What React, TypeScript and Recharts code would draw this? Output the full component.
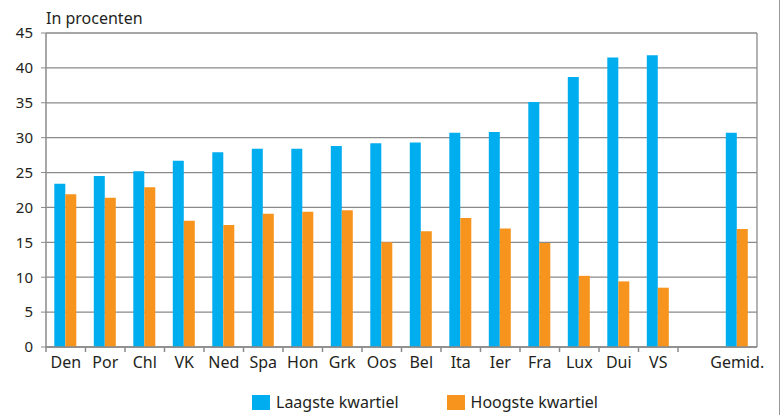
import React from 'react'
import { BarChart, Bar, XAxis, YAxis, CartesianGrid } from 'recharts'

// categorieën, inclusief lege kolom voor het gemiddelde
const landen = ['Den', 'Por', 'Chl', 'VK', 'Ned', 'Spa', 'Hon', 'Grk', 'Oos', 'Bel', 'Ita', 'Ier', 'Fra', 'Lux', 'Dui', 'VS', '', 'Gemid.']
const laagsteKwartiel = [23.4, 24.5, 25.2, 26.7, 27.9, 28.4, 28.4, 28.8, 29.2, 29.3, 30.7, 30.8, 35.1, 38.7, 41.5, 41.8, null, 30.7]
const hoogsteKwartiel = [21.9, 21.4, 22.9, 18.1, 17.5, 19.1, 19.4, 19.6, 15.0, 16.6, 18.5, 17.0, 14.9, 10.2, 9.4, 8.5, null, 16.9]
const yTicks = [0, 5, 10, 15, 20, 25, 30, 35, 40, 45]

const BLUE = '#00adee'
const ORANGE = '#f7941d'
const GRID = '#8a8a8a'
const TEXT = '#231f20'
const FONT = '"Noto Sans", "Open Sans", sans-serif'

const data = landen.map((naam, i) => ({
  naam,
  laag: laagsteKwartiel[i],
  hoog: hoogsteKwartiel[i],
}))

const W = 780
const H = 415
const MARGIN = { top: 33, right: 23, bottom: 38, left: 0 }
const Y_WIDTH = 46

// ticks between categories instead of at the centre
const XTick = (props: any) => {
  const { x, y, payload } = props
  const plotWidth = W - MARGIN.left - MARGIN.right - Y_WIDTH
  const half = payload.offset ? payload.offset : plotWidth / landen.length / 2
  const showLine = payload.value !== 'Gemid.'
  return (
    <g>
      {showLine && <line x1={x - half} x2={x - half} y1={y - 8} y2={y - 3} stroke={GRID} strokeWidth={1.5} />}
      <text x={x} y={y + 13} textAnchor="middle" fill={TEXT} fontSize={16} fontFamily={FONT}>
        {payload.value}
      </text>
    </g>
  )
}

const legendItem = (kleur: string, label: string) => (
  <div style={{ display: 'flex', alignItems: 'center' }}>
    <span style={{ width: 18, height: 15, background: kleur, marginRight: 6, display: 'inline-block' }} />
    {label}
  </div>
)

export default function App() {
  return (
    <div style={{ position: 'absolute', left: 0, top: 0, width: W, height: H, background: '#fff', boxSizing: 'border-box', borderRight: '1.5px solid #999' }}>
      <div style={{ position: 'absolute', left: 46, top: 7, fontFamily: FONT, fontSize: 16, color: TEXT }}>
        In procenten
      </div>
      <BarChart width={W} height={H} data={data} margin={MARGIN} barCategoryGap="21%" barGap={0}>
        <CartesianGrid
          stroke={GRID}
          strokeWidth={1.3}
          horizontalValues={yTicks}
          verticalCoordinatesGenerator={({ offset }: any) => [offset.left + offset.width]}
        />
        <XAxis
          dataKey="naam"
          interval={0}
          axisLine={{ stroke: GRID, strokeWidth: 1.5 }}
          tickLine={false}
          tick={<XTick />}
          height={30}
        />
        <YAxis
          width={Y_WIDTH}
          domain={[0, 45]}
          ticks={yTicks}
          interval={0}
          axisLine={{ stroke: GRID, strokeWidth: 1.5 }}
          tickLine={{ stroke: GRID }}
          tickSize={5}
          tickMargin={8}
          tick={{ fill: TEXT, fontSize: 15, fontFamily: FONT }}
        />
        <Bar dataKey="laag" fill={BLUE} isAnimationActive={false} />
        <Bar dataKey="hoog" fill={ORANGE} isAnimationActive={false} />
      </BarChart>
      <div style={{ position: 'absolute', left: 252, top: 391, display: 'flex', gap: 48, fontFamily: FONT, fontSize: 16, color: TEXT }}>
        {legendItem(BLUE, 'Laagste kwartiel')}
        {legendItem(ORANGE, 'Hoogste kwartiel')}
      </div>
    </div>
  )
}
